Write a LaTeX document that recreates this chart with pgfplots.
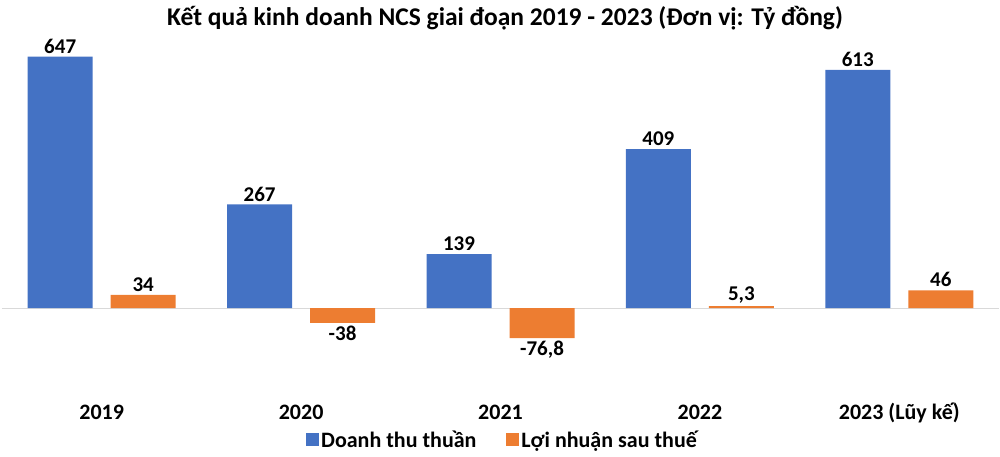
\documentclass[border=0pt]{standalone}
\usepackage{pgfplots}
\pgfplotsset{compat=1.18}
\usepackage{fontspec}
\setmainfont{Carlito}
\definecolor{cblue}{HTML}{4472C4}
\definecolor{corange}{HTML}{ED7D31}
\begin{document}
\begin{tikzpicture}[x=1pt,y=1pt]
\useasboundingbox (0,0) rectangle (1000,457);
\node[font=\fontsize{25.5}{30}\selectfont\bfseries] at (505,439) {Kết quả kinh doanh NCS giai đoạn 2019 - 2023 (Đơn vị: Tỷ đồng)};
\begin{axis}[
  at={(2pt,71pt)}, anchor=south west,
  scale only axis, width=997pt, height=350pt,
  xmin=-0.5, xmax=4.5, ymin=-200, ymax=700,
  ybar=18pt, bar width=65pt,
  axis line style={draw=none},
  ytick=\empty,
  xtick={0,1,2,3,4},
  xticklabels={2019,2020,2021,2022,2023 (Lũy kế)},
  major tick length=0pt,
  xticklabel style={font=\fontsize{22}{26}\selectfont\bfseries, anchor=north, inner sep=0pt, text height=14pt, yshift=-19pt},
  clip=false,
  point meta=y,
  nodes near coords,
  nodes near coords style={font=\fontsize{21}{25}\selectfont\bfseries, /pgf/number format/assume math mode=true, /pgf/number format/use comma, /pgf/number format/1000 sep={}, inner sep=3pt, text=black},
  legend style={at={(0.502,-0.154)}, anchor=center, draw=none, legend columns=2, font=\fontsize{22}{26}\selectfont\bfseries, /tikz/every even column/.append style={column sep=28pt}},
  legend image code/.code={\fill[#1] (0pt,-6.5pt) rectangle (13pt,6.5pt);},
]
\draw[black!15, line width=1pt] (axis cs:-0.5,0) -- (axis cs:4.5,0);
\addplot[fill=cblue, draw=none] coordinates {(0,647) (1,267) (2,139) (3,409) (4,613)};
\addplot[fill=corange, draw=none] coordinates {(0,34) (1,-38) (2,-76.8) (3,5.3) (4,46)};
\legend{Doanh thu thuần, Lợi nhuận sau thuế}
\end{axis}
\end{tikzpicture}
\end{document}
